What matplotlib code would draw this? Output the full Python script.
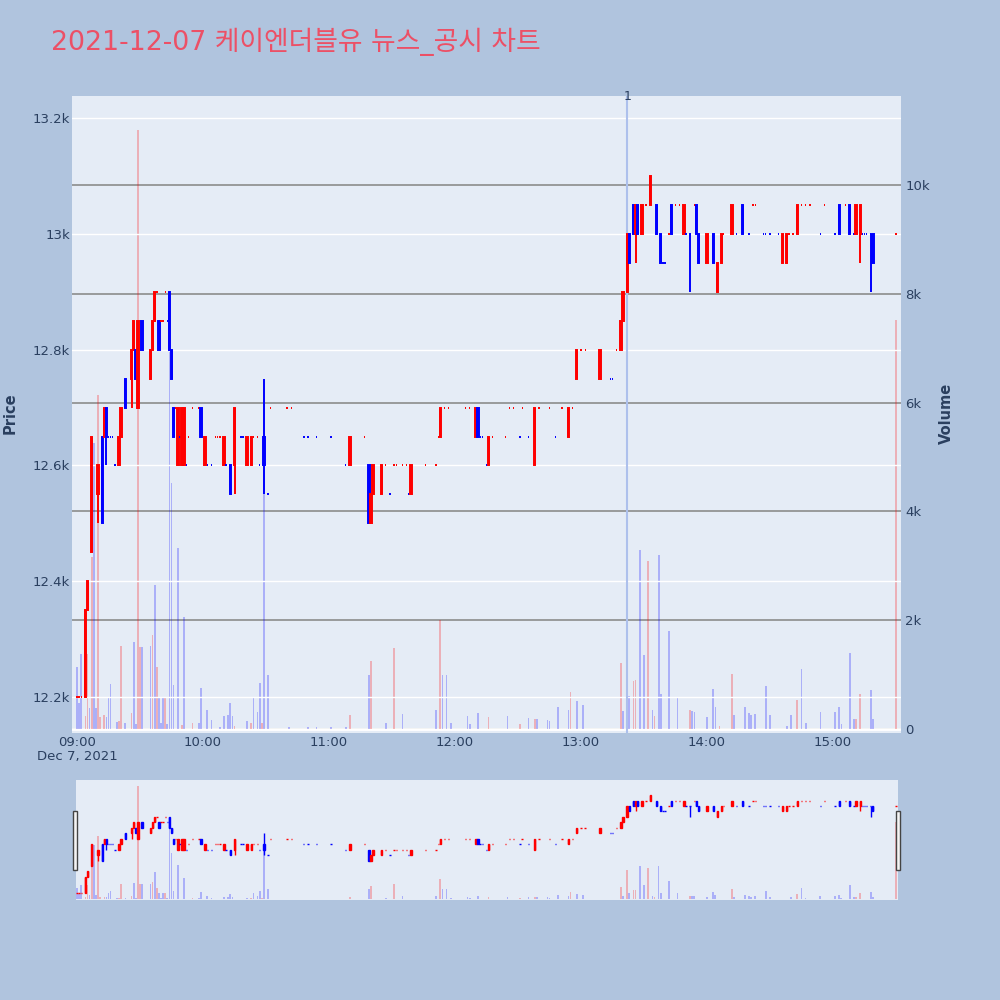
import pandas as pd
import matplotlib
matplotlib.use('Agg')
import matplotlib.pyplot as plt
import matplotlib.dates as mdates
from matplotlib.patches import Rectangle

plt.rcParams['font.family'] = ['DejaVu Sans', 'Noto Sans CJK KR']

TITLE = '2021-12-07 케이엔더블유 뉴스_공시 차트'
DAY = '2021-12-07'

# 1-minute candles (price in KRW)
candle_time = [
    '09:00', '09:01', '09:02', '09:04', '09:05', '09:07', '09:10', '09:12', '09:13', '09:14',
    '09:15', '09:16', '09:17', '09:18', '09:20', '09:21', '09:23', '09:26', '09:27', '09:28',
    '09:29', '09:31', '09:35', '09:36', '09:37', '09:38', '09:39', '09:40', '09:41', '09:42',
    '09:43', '09:44', '09:45', '09:46', '09:47', '09:48', '09:49', '09:50', '09:51', '09:52',
    '09:53', '09:55', '09:58', '09:59', '10:01', '10:02', '10:04', '10:06', '10:07', '10:08',
    '10:10', '10:11', '10:13', '10:15', '10:18', '10:19', '10:21', '10:23', '10:24', '10:26',
    '10:27', '10:29', '10:31', '10:32', '10:40', '10:42', '10:48', '10:50', '10:54', '11:01',
    '11:08', '11:10', '11:17', '11:19', '11:20', '11:21', '11:25', '11:27', '11:29', '11:31',
    '11:32', '11:35', '11:37', '11:38', '11:39', '11:46', '11:51', '11:52', '11:53', '11:55',
    '11:57', '12:05', '12:07', '12:10', '12:11', '12:12', '12:13', '12:15', '12:16', '12:18',
    '12:24', '12:26', '12:28', '12:31', '12:32', '12:35', '12:38', '12:40', '12:45', '12:48',
    '12:51', '12:54', '12:56', '12:58', '13:00', '13:02', '13:09', '13:14', '13:15', '13:17',
    '13:19', '13:20', '13:22', '13:23', '13:25', '13:26', '13:27', '13:29', '13:31', '13:33',
    '13:36', '13:38', '13:39', '13:40', '13:42', '13:43', '13:45', '13:47', '13:49', '13:50',
    '13:52', '13:54', '13:55', '13:56', '14:00', '14:03', '14:05', '14:07', '14:08', '14:12',
    '14:14', '14:17', '14:20', '14:22', '14:23', '14:27', '14:28', '14:30', '14:34', '14:36',
    '14:38', '14:39', '14:41', '14:43', '14:45', '14:47', '14:49', '14:54', '14:56', '15:01',
    '15:03', '15:06', '15:08', '15:10', '15:11', '15:13', '15:14', '15:15', '15:16', '15:18',
    '15:19', '15:30',
]
candle_open = [
    12200, 12200, 12200, 12200, 12350, 12450, 12550, 12650, 12650, 12700,
    12650, 12650, 12650, 12600, 12600, 12650, 12750, 12750, 12800, 12800,
    12700, 12850, 12750, 12800, 12850, 12900, 12850, 12850, 12850, 12900,
    12850, 12900, 12800, 12700, 12700, 12600, 12650, 12600, 12600, 12600,
    12650, 12700, 12700, 12700, 12600, 12600, 12600, 12650, 12650, 12650,
    12600, 12600, 12600, 12600, 12650, 12650, 12600, 12600, 12650, 12650,
    12600, 12650, 12550, 12700, 12700, 12700, 12650, 12650, 12650, 12650,
    12600, 12600, 12650, 12600, 12500, 12550, 12550, 12600, 12550, 12600,
    12600, 12600, 12600, 12550, 12550, 12600, 12600, 12650, 12650, 12700,
    12700, 12700, 12700, 12650, 12700, 12650, 12650, 12600, 12600, 12650,
    12650, 12700, 12700, 12650, 12700, 12650, 12600, 12700, 12700, 12650,
    12700, 12650, 12700, 12750, 12800, 12800, 12750, 12750, 12750, 12800,
    12800, 12850, 12900, 13000, 13050, 13000, 13050, 13000, 13050, 13050,
    13050, 13000, 12950, 12950, 13000, 13050, 13050, 13050, 13000, 13000,
    13000, 13050, 13050, 13000, 12950, 13000, 12900, 12950, 13000, 13000,
    13000, 13050, 13000, 13050, 13050, 13000, 13000, 13000, 13000, 12950,
    12950, 13000, 13000, 13000, 13050, 13050, 13050, 13000, 13050, 13000,
    13050, 13050, 13050, 13000, 13000, 13000, 13000, 13000, 13000, 13000,
    13000, 13000,
]
candle_high = [
    12200, 12200, 12200, 12350, 12400, 12650, 12600, 12650, 12700, 12700,
    12650, 12650, 12650, 12600, 12650, 12700, 12750, 12800, 12850, 12800,
    12850, 12850, 12800, 12850, 12900, 12900, 12850, 12850, 12850, 12900,
    12850, 12900, 12800, 12700, 12700, 12700, 12650, 12700, 12700, 12600,
    12650, 12700, 12700, 12700, 12650, 12600, 12600, 12650, 12650, 12650,
    12650, 12600, 12600, 12700, 12650, 12650, 12650, 12650, 12650, 12650,
    12600, 12750, 12550, 12700, 12700, 12700, 12650, 12650, 12650, 12650,
    12600, 12650, 12650, 12600, 12550, 12600, 12600, 12600, 12550, 12600,
    12600, 12600, 12600, 12550, 12600, 12600, 12600, 12650, 12700, 12700,
    12700, 12700, 12700, 12700, 12700, 12650, 12650, 12600, 12650, 12650,
    12650, 12700, 12700, 12650, 12700, 12650, 12700, 12700, 12700, 12650,
    12700, 12700, 12700, 12800, 12800, 12800, 12800, 12750, 12750, 12800,
    12850, 12900, 13000, 13000, 13050, 13050, 13050, 13050, 13050, 13100,
    13050, 13000, 12950, 12950, 13000, 13050, 13050, 13050, 13050, 13000,
    13000, 13050, 13050, 13000, 13000, 13000, 12950, 13000, 13000, 13050,
    13000, 13050, 13000, 13050, 13050, 13000, 13000, 13000, 13000, 13000,
    13000, 13000, 13000, 13050, 13050, 13050, 13050, 13000, 13050, 13000,
    13050, 13050, 13050, 13000, 13050, 13050, 13000, 13000, 13000, 13000,
    13000, 13000,
]
candle_low = [
    12200, 12200, 12200, 12200, 12350, 12450, 12500, 12500, 12650, 12600,
    12650, 12650, 12650, 12600, 12600, 12650, 12700, 12700, 12800, 12750,
    12700, 12800, 12750, 12800, 12850, 12900, 12800, 12850, 12850, 12900,
    12850, 12800, 12750, 12650, 12700, 12600, 12650, 12600, 12600, 12600,
    12650, 12700, 12700, 12650, 12600, 12600, 12600, 12650, 12650, 12650,
    12600, 12600, 12550, 12550, 12650, 12650, 12600, 12600, 12650, 12650,
    12600, 12550, 12550, 12700, 12700, 12700, 12650, 12650, 12650, 12650,
    12600, 12600, 12650, 12500, 12500, 12550, 12550, 12600, 12550, 12600,
    12600, 12600, 12600, 12550, 12550, 12600, 12600, 12650, 12650, 12700,
    12700, 12700, 12700, 12650, 12650, 12650, 12650, 12600, 12600, 12650,
    12650, 12700, 12700, 12650, 12700, 12650, 12600, 12700, 12700, 12650,
    12700, 12650, 12700, 12750, 12800, 12800, 12750, 12750, 12750, 12800,
    12800, 12850, 12900, 12950, 13000, 12950, 13000, 13000, 13050, 13050,
    13000, 12950, 12950, 12950, 13000, 13000, 13050, 13050, 13000, 13000,
    12900, 13050, 13000, 12950, 12950, 12950, 12900, 12950, 13000, 13000,
    13000, 13000, 13000, 13050, 13050, 13000, 13000, 13000, 13000, 12950,
    12950, 13000, 13000, 13000, 13050, 13050, 13050, 13000, 13050, 13000,
    13000, 13050, 13000, 13000, 13000, 12950, 13000, 13000, 13000, 12900,
    12950, 13000,
]
candle_close = [
    12200, 12200, 12200, 12350, 12400, 12650, 12600, 12500, 12700, 12650,
    12650, 12650, 12650, 12600, 12650, 12700, 12700, 12800, 12850, 12750,
    12850, 12800, 12800, 12850, 12900, 12900, 12800, 12850, 12850, 12900,
    12850, 12800, 12750, 12650, 12700, 12700, 12650, 12700, 12700, 12600,
    12650, 12700, 12700, 12650, 12650, 12600, 12600, 12650, 12650, 12650,
    12650, 12600, 12550, 12700, 12650, 12650, 12650, 12650, 12650, 12650,
    12600, 12600, 12550, 12700, 12700, 12700, 12650, 12650, 12650, 12650,
    12600, 12650, 12650, 12500, 12550, 12600, 12600, 12600, 12550, 12600,
    12600, 12600, 12600, 12550, 12600, 12600, 12600, 12650, 12700, 12700,
    12700, 12700, 12700, 12700, 12650, 12650, 12650, 12600, 12650, 12650,
    12650, 12700, 12700, 12650, 12700, 12650, 12700, 12700, 12700, 12650,
    12700, 12700, 12700, 12800, 12800, 12800, 12800, 12750, 12750, 12800,
    12850, 12900, 13000, 12950, 13000, 13050, 13000, 13050, 13050, 13100,
    13000, 12950, 12950, 12950, 13000, 13000, 13050, 13050, 13050, 13000,
    13000, 13050, 13000, 12950, 13000, 12950, 12950, 13000, 13000, 13050,
    13000, 13000, 13000, 13050, 13050, 13000, 13000, 13000, 13000, 13000,
    13000, 13000, 13000, 13050, 13050, 13050, 13050, 13000, 13050, 13000,
    13000, 13050, 13000, 13000, 13050, 13050, 13000, 13000, 13000, 13000,
    12950, 13000,
]

# traded volume per minute, side = 'u' (up/red) or 'd' (down/blue)
vol_time = [
    '09:00', '09:01', '09:02', '09:04', '09:05', '09:06', '09:07', '09:08', '09:09', '09:10',
    '09:11', '09:13', '09:14', '09:15', '09:16', '09:19', '09:20', '09:21', '09:23', '09:26',
    '09:27', '09:28', '09:29', '09:30', '09:31', '09:35', '09:36', '09:37', '09:38', '09:39',
    '09:40', '09:41', '09:42', '09:43', '09:44', '09:45', '09:46', '09:48', '09:50', '09:51',
    '09:55', '09:58', '09:59', '10:02', '10:04', '10:08', '10:10', '10:12', '10:13', '10:14',
    '10:15', '10:21', '10:23', '10:24', '10:26', '10:27', '10:28', '10:29', '10:31', '10:41',
    '10:50', '10:54', '11:01', '11:08', '11:10', '11:19', '11:20', '11:27', '11:31', '11:35',
    '11:51', '11:53', '11:54', '11:56', '11:58', '12:06', '12:07', '12:11', '12:16', '12:25',
    '12:31', '12:35', '12:38', '12:39', '12:44', '12:45', '12:49', '12:54', '12:55', '12:58',
    '13:01', '13:19', '13:20', '13:22', '13:23', '13:25', '13:26', '13:28', '13:30', '13:32',
    '13:34', '13:35', '13:37', '13:38', '13:42', '13:46', '13:52', '13:53', '13:54', '14:00',
    '14:03', '14:04', '14:06', '14:12', '14:13', '14:18', '14:20', '14:21', '14:23', '14:28',
    '14:30', '14:38', '14:40', '14:43', '14:45', '14:47', '14:54', '15:01', '15:03', '15:04',
    '15:08', '15:10', '15:11', '15:13', '15:18', '15:19', '15:30',
]
vol_value = [
    1140, 480, 1380, 240, 1380, 386, 3160, 5257, 390, 6140,
    220, 260, 220, 570, 830, 130, 150, 1525, 110, 290,
    1600, 90, 11010, 1500, 1500, 1525, 1730, 2650, 1140, 570,
    110, 570, 590, 90, 6930, 4520, 810, 3330, 70, 2060,
    110, 110, 750, 350, 165, 40, 240, 260, 480, 240,
    55, 150, 110, 570, 310, 845, 110, 5090, 990, 40,
    40, 40, 40, 40, 260, 990, 1250, 110, 1490, 275,
    350, 2000, 990, 990, 110, 240, 90, 290, 220, 240,
    90, 200, 180, 180, 170, 150, 400, 350, 680, 515,
    440, 1210, 330, 2890, 610, 880, 900, 3290, 1360, 3090,
    350, 240, 3200, 640, 1800, 570, 350, 330, 310, 220,
    735, 400, 55, 1010, 260, 400, 290, 260, 275, 790,
    260, 55, 260, 530, 1100, 110, 310, 310, 400, 90,
    1400, 180, 180, 640, 720, 180, 7520,
]
vol_side = [
    'd', 'd', 'd', 'u', 'u', 'd', 'u', 'd', 'd', 'u',
    'u', 'u', 'd', 'd', 'd', 'd', 'u', 'u', 'd', 'u',
    'd', 'd', 'u', 'u', 'd', 'd', 'u', 'd', 'u', 'd',
    'd', 'd', 'u', 'd', 'd', 'd', 'd', 'd', 'u', 'd',
    'u', 'd', 'd', 'd', 'd', 'd', 'd', 'd', 'd', 'd',
    'u', 'd', 'u', 'd', 'd', 'd', 'u', 'd', 'd', 'd',
    'd', 'd', 'd', 'd', 'u', 'd', 'u', 'd', 'u', 'd',
    'd', 'u', 'd', 'd', 'd', 'd', 'd', 'd', 'u', 'd',
    'u', 'd', 'u', 'd', 'd', 'd', 'd', 'd', 'u', 'd',
    'd', 'u', 'd', 'u', 'd', 'u', 'u', 'd', 'd', 'u',
    'd', 'u', 'd', 'd', 'd', 'd', 'u', 'd', 'd', 'd',
    'd', 'd', 'u', 'u', 'd', 'd', 'd', 'd', 'd', 'd',
    'd', 'd', 'd', 'u', 'd', 'd', 'd', 'd', 'd', 'd',
    'd', 'd', 'u', 'u', 'd', 'd', 'u',
]

news_time = ['13:22']
news_label = ['1']

RED = '#ff0000'
BLUE = '#0000ff'
MIN = 1.0 / 1440


def to_num(times):
    return mdates.date2num(pd.to_datetime([f'{DAY} {t}' for t in times]))


def candle_dirs(opens, closes):
    # plotly rule: close vs open, ties resolved against the previous close
    ups, up, prev = [], True, None
    for o, c in zip(opens, closes):
        if c > o:
            up = True
        elif c < o:
            up = False
        elif prev is not None and c != prev:
            up = c > prev
        ups.append(up)
        prev = c
    return ups


def draw_price(ax, lw):
    x = to_num(candle_time)
    ups = candle_dirs(candle_open, candle_close)
    cols = [RED if u else BLUE for u in ups]
    ax.vlines(x, candle_low, candle_high, colors=cols, lw=lw, zorder=3)
    bottoms = [min(o, c) for o, c in zip(candle_open, candle_close)]
    heights = [abs(c - o) for o, c in zip(candle_open, candle_close)]
    ax.bar(x, heights, bottom=bottoms, width=0.65 * MIN, color=cols,
           edgecolor=cols, linewidth=lw, zorder=3)


def draw_volume(ax):
    x = to_num(vol_time)
    cols = [RED if s == 'u' else BLUE for s in vol_side]
    ax.bar(x, vol_value, width=0.8 * MIN, color=cols, alpha=0.25, linewidth=0, zorder=2)


t0 = mdates.date2num(pd.Timestamp(f'{DAY} 09:00'))
PRICE_LIM = (12138, 13238)
VOL_LIM = (-74, 11636)

fig = plt.figure(figsize=(10, 10), dpi=100, facecolor='#b0c4de')

# main chart: volume axis underneath (right ticks), price axis on top (left ticks)
ax_vol = fig.add_axes([0.072, 0.267, 0.829, 0.637], facecolor='#e5ecf6')
ax_price = ax_vol.twinx()
ax_price.set_facecolor('none')

draw_volume(ax_vol)
ax_vol.axhline(0, color='white', lw=2, zorder=1)
ax_vol.set_ylim(*VOL_LIM)
ax_vol.set_yticks([0, 2000, 4000, 6000, 8000, 10000])
ax_vol.set_yticklabels(['0', '2k', '4k', '6k', '8k', '10k'])
ax_vol.yaxis.tick_right()
ax_vol.grid(axis='y', color='#8c8c8c', lw=1.2)
ax_vol.set_axisbelow(True)

draw_price(ax_price, 1.4)
ax_price.set_ylim(*PRICE_LIM)
price_ticks = list(range(12200, 13201, 200))
ax_price.set_yticks(price_ticks)
ax_price.set_yticklabels([f'{p / 1000:g}k' for p in price_ticks])
ax_price.yaxis.tick_left()
ax_price.grid(axis='y', color='white', lw=1)
ax_price.set_axisbelow(True)

for nt, lab in zip(news_time, news_label):
    nx = to_num([nt])[0]
    ax_price.axvline(nx, color='#adc0ec', lw=1.5, zorder=2)
    ax_price.annotate(lab, xy=(nx, 1.0), xycoords=('data', 'axes fraction'),
                      ha='center', va='center', fontsize=9, color='#2a3f5f')

ax_vol.set_xlim(t0 - 2.4 * MIN, t0 + 392.4 * MIN)
hours = [t0 + h * 60 * MIN for h in range(7)]
ax_vol.set_xticks(hours)
ax_vol.set_xticklabels(['09:00\nDec 7, 2021'] + [f'{9 + h:02d}:00' for h in range(1, 7)],
                       linespacing=1.1)

for a in (ax_vol, ax_price):
    for s in a.spines.values():
        s.set_visible(False)
    a.tick_params(length=0, colors='#2a3f5f', labelsize=9.5)
ax_vol.tick_params(axis='x', pad=2)
ax_vol.tick_params(axis='y', pad=3)
ax_price.tick_params(axis='y', pad=1.5)

fig.text(0.010, 0.587, 'Price', rotation=90, ha='center', va='center',
         fontsize=10.5, fontweight='bold', color='#2a3f5f')
fig.text(0.946, 0.587, 'Volume', rotation=90, ha='center', va='center',
         fontsize=10.5, fontweight='bold', color='#2a3f5f')

fig.text(0.051, 0.958, TITLE, ha='left', va='center', fontsize=19.3,
         color='#ec5066', family=['DejaVu Sans', 'Noto Sans CJK KR'])

# range slider with the whole session in miniature
sl_vol = fig.add_axes([0.076, 0.100, 0.822, 0.120], facecolor='#e5ecf6')
sl_price = sl_vol.twinx()
sl_price.set_facecolor('none')
draw_volume(sl_vol)
draw_price(sl_price, 1.0)
sl_vol.set_ylim(*VOL_LIM)
sl_price.set_ylim(*PRICE_LIM)
sl_vol.set_xlim(t0 - 0.5 * MIN, t0 + 391.0 * MIN)
for a in (sl_vol, sl_price):
    a.set_xticks([])
    a.set_yticks([])
    for s in a.spines.values():
        s.set_visible(False)

for hx in (0.073, 0.896):
    fig.add_artist(Rectangle((hx, 0.130), 0.004, 0.059, transform=fig.transFigure,
                             facecolor='#f4f4f4', edgecolor='#444444', lw=1))

fig.savefig('out.png', dpi=100, facecolor=fig.get_facecolor())
